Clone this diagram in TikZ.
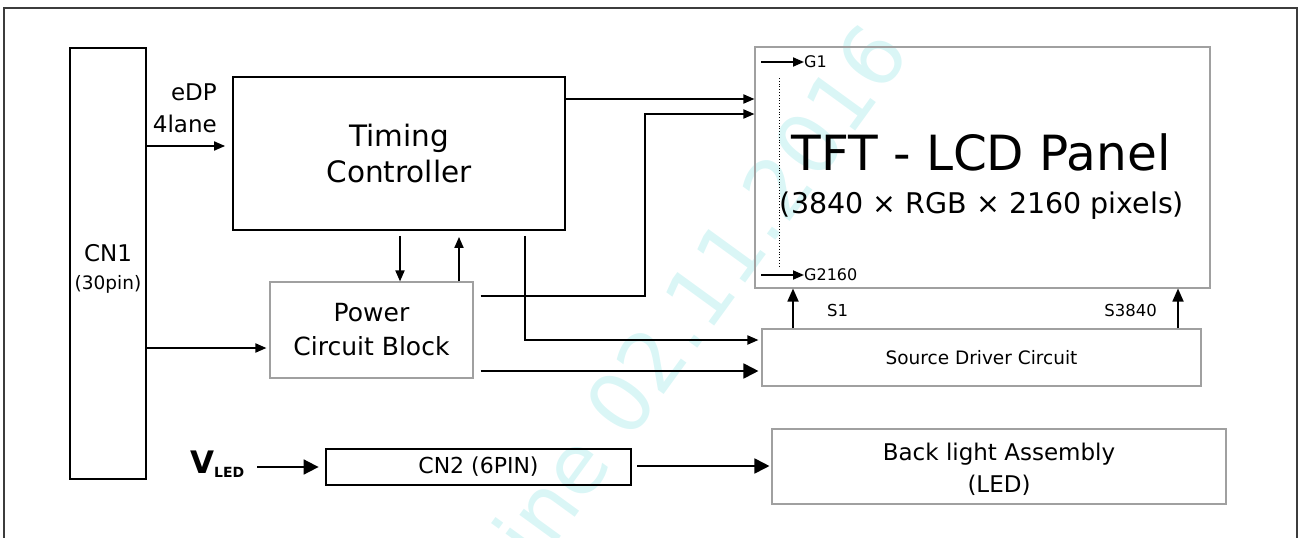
\documentclass[tikz,border=0pt]{standalone}
\usepackage{fontspec}
\setmainfont{DejaVu Sans}
\usetikzlibrary{arrows.meta}
\definecolor{wm}{RGB}{218,246,246}
\definecolor{gbd}{RGB}{160,160,160}
\definecolor{frm}{RGB}{60,60,60}
\newcommand{\fs}[2]{\fontsize{#1}{#2}\selectfont}
\begin{document}
\begin{tikzpicture}[x=1pt,y=-1pt,
  blk/.style={draw=black,line width=1.8pt,align=center,inner sep=0pt},
  gbox/.style={draw=gbd,line width=1.1pt,align=center,inner sep=0pt},
  lbl/.style={inner sep=0pt,align=center},
  arr/.style={line width=1.8pt,-{Triangle[length=11pt,width=9pt]}},
  sarr/.style={line width=1.8pt,-{Triangle[length=13pt,width=11pt]}},
  barr/.style={line width=1.8pt,-{Triangle[length=15pt,width=15pt]}},
]
\useasboundingbox (0,0) rectangle (1301,538);
% watermark
\node[lbl,text=wm,rotate=54,font=\fs{84}{84}] (wmk) at (700,292) {ine 02.11.2016};
% outer frame
\draw[line width=1.6pt,frm] (4,560) -- (4,8) -- (1297,8) -- (1297,560);
% blocks
\node[blk,minimum width=76pt,minimum height=431pt] (cn1) at (108,263.5) {};
\node[lbl,font=\fs{23}{28}] (cn1t) at (108,269) {CN1\\{\fs{18.5}{28}(30pin)}};
\node[blk,minimum width=332pt,minimum height=153pt,font=\fs{29.5}{36}] (tc) at (399,153.5) {Timing\\Controller};
\node[gbox,minimum width=203pt,minimum height=96pt,font=\fs{25}{34}] (pw) at (371.5,330) {Power\\Circuit Block};
\node[gbox,minimum width=455pt,minimum height=241pt] (panel) at (982.5,167.5) {};
\node[gbox,minimum width=439pt,minimum height=57pt,font=\fs{18.5}{22}] (sd) at (981.5,357.5) {Source Driver Circuit};
\node[gbox,minimum width=454pt,minimum height=75pt] (bl) at (999,466.5) {};
\node[lbl,font=\fs{23}{32}] (blt) at (999,469.5) {Back light Assembly\\(LED)};
\node[draw=black,line width=2.8pt,inner sep=0pt,minimum width=305pt,minimum height=36pt,font=\fs{22}{26}] (cn2) at (478.5,467) {CN2 (6PIN)};
% labels
\node[lbl,align=right,anchor=east,font=\fs{23}{32}] (edp) at (217,108) {eDP\\4lane};
\node[lbl,anchor=base,font=\fs{48.5}{50}] (tft) at (981,170) {TFT - LCD Panel};
\node[lbl,anchor=base,font=\fs{28.5}{30}] (res) at (982,213) {(3840 × RGB × 2160 pixels)};
\node[lbl,anchor=west,font=\fs{16}{16}] (g1) at (804,62) {G1};
\node[lbl,anchor=west,font=\fs{16}{16}] (g2) at (804,275) {G2160};
\node[lbl,anchor=west,font=\fs{16.5}{18}] (s1) at (827,310) {S1};
\node[lbl,anchor=east,font=\fs{16.5}{18}] (s2) at (1157,310) {S3840};
\node[lbl,anchor=base west] (vled) at (190,473) {\fs{31}{32}\bfseries V\raisebox{-4pt}{\fs{14}{15}\bfseries LED}};
% coordinates
\coordinate (g1s) at (761,62);
\coordinate (g2s) at (761,275);
\coordinate (dt) at (779,78);
\coordinate (db) at (779,266);
\coordinate (jog) at (645,114);
\coordinate (vs) at (257,467);
% connectors
\draw[arr,shorten >=7pt] (cn1.east |- 0,146) -- (tc.west |- 0,146);
\draw[arr] (tc.east |- 0,99) -- (panel.west |- 0,99);
\draw[arr] ([xshift=7pt]pw.east |- 0,296) -| (jog) -- (panel.west |- jog);
\draw[arr] ([yshift=-5pt]tc.south -| 400,0) -- (pw.north -| 400,0);
\draw[arr] (pw.north -| 459,0) -- ([yshift=-6pt]tc.south -| 459,0);
\draw[arr,shorten >=3pt] ([yshift=-5pt]tc.south -| 525,0) |- (sd.west |- 0,340);
\draw[barr,shorten >=3pt] ([xshift=7pt]pw.east |- 0,371) -- (sd.west |- 0,371);
\draw[arr,shorten >=3pt] (cn1.east |- 0,348) -- (pw.west |- 0,348);
\draw[sarr] (sd.north -| 793,0) -- (panel.south -| 793,0);
\draw[sarr] (sd.north -| 1178,0) -- (panel.south -| 1178,0);
\draw[arr] (g1s) -- (g1.west);
\draw[arr] (g2s) -- (g2.west);
\draw[line width=0.8pt,dotted] (dt) -- (db);
\draw[barr,shorten >=6pt] (vs) -- (cn2.west |- vs);
\draw[barr,shorten >=2pt] ([xshift=5pt]cn2.east |- 0,466) -- (bl.west |- 0,466);
\end{tikzpicture}
\end{document}
